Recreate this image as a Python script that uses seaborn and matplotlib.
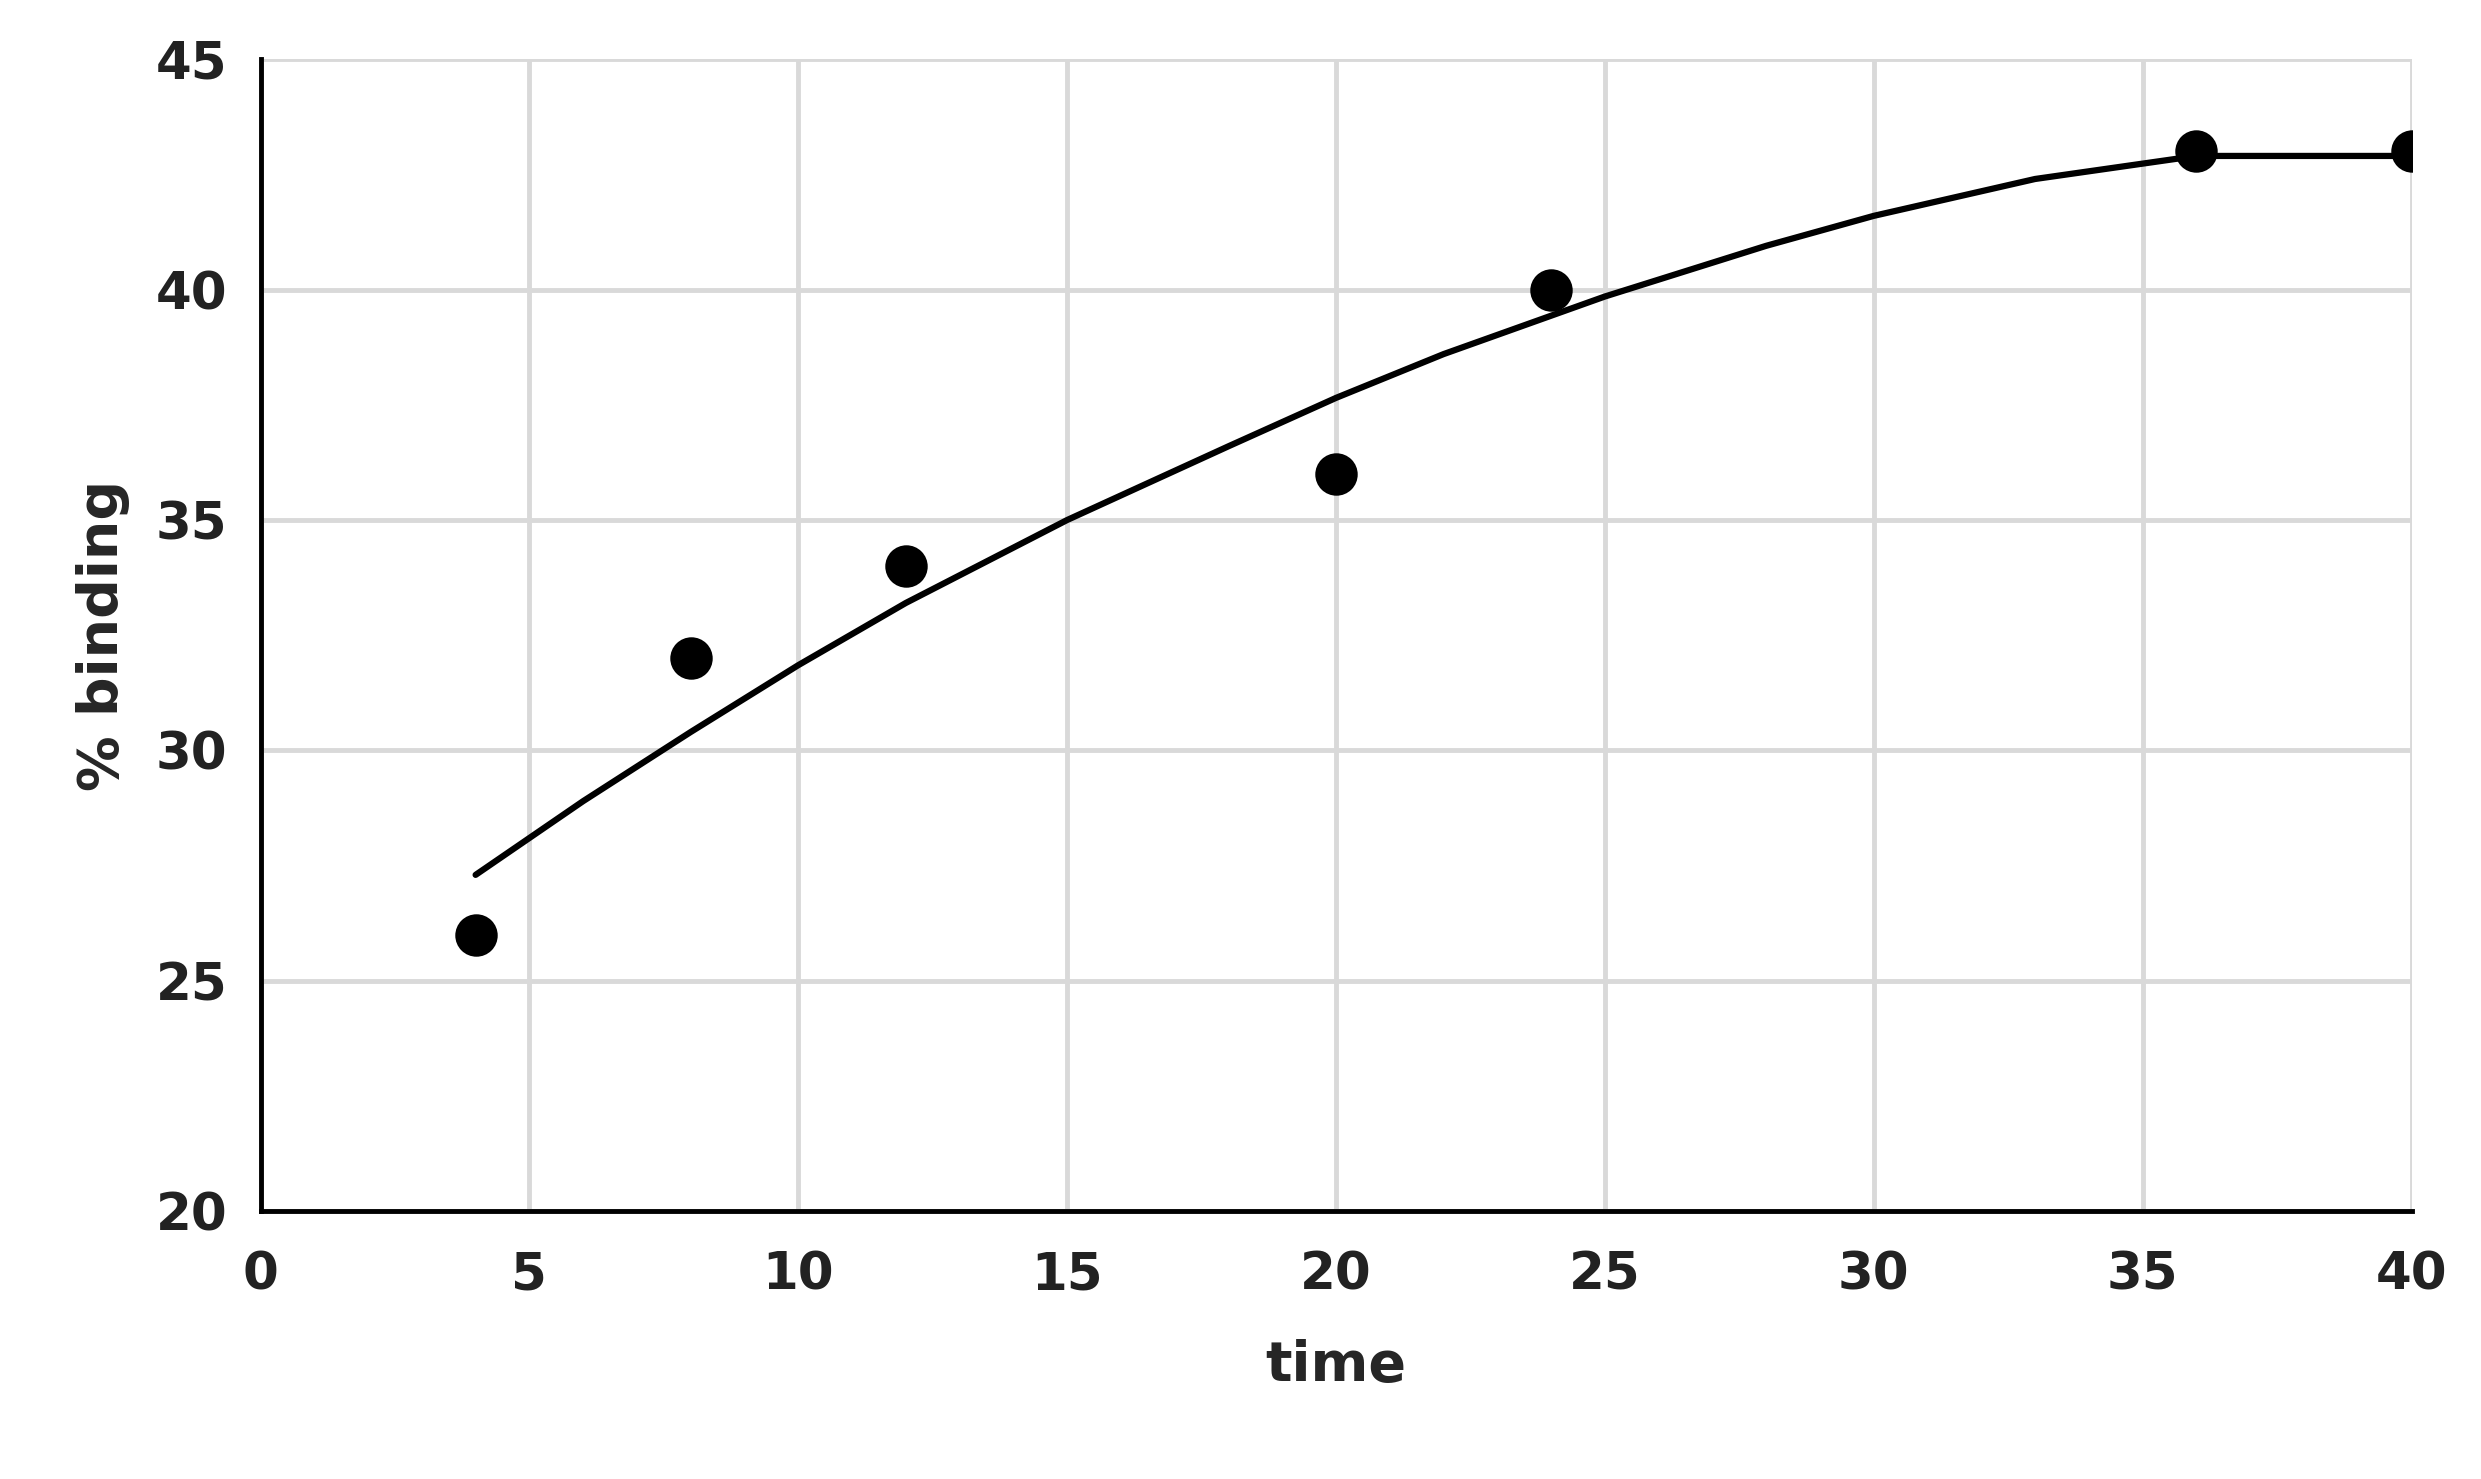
import matplotlib
matplotlib.use("Agg")
import matplotlib.pyplot as plt
import seaborn as sns
import pandas as pd

# Measured points
time_pts = [4, 8, 12, 20, 24, 36, 40]
binding_pts = [26, 32, 34, 36, 40, 43, 43]

# Trend line
curve_time = [4, 6, 8, 10, 12, 15, 18, 20, 22, 25, 28, 30, 33, 36, 40]
curve_binding = [27.3, 28.9, 30.4, 31.85, 33.2, 35.0, 36.6, 37.65, 38.6, 39.85,
                 40.95, 41.6, 42.4, 42.9, 42.9]

x_ticks = [0, 5, 10, 15, 20, 25, 30, 35, 40]
y_ticks = [20, 25, 30, 35, 40, 45]

sns.set_style("white")
plt.rcParams["font.family"] = ["DejaVu Sans"]

points_df = pd.DataFrame({"time": time_pts, "binding": binding_pts})
curve_df = pd.DataFrame({"time": curve_time, "binding": curve_binding})

fig, ax = plt.subplots(figsize=(24.81, 14.79), dpi=100)
fig.subplots_adjust(left=0.105, right=0.972, top=0.96, bottom=0.181)

ax.grid(True, color="#d9d9d9", linewidth=3.5)
ax.set_axisbelow(True)

sns.lineplot(data=curve_df, x="time", y="binding", ax=ax, color="black",
             linewidth=4.5, zorder=2)
sns.scatterplot(data=points_df, x="time", y="binding", ax=ax, color="black",
                s=800, edgecolor="black", zorder=3)

ax.set_xlim(0, 40)
ax.set_ylim(20, 45)
ax.set_xticks(x_ticks)
ax.set_yticks(y_ticks)
ax.tick_params(axis="both", labelsize=37, colors="#222222")
ax.tick_params(axis="y", length=14, width=3, color="black", direction="out", pad=10)
ax.tick_params(axis="x", length=0, pad=28)
for lbl in ax.get_xticklabels() + ax.get_yticklabels():
    lbl.set_fontweight("bold")

for side in ["top", "right"]:
    ax.spines[side].set_visible(False)
for side in ["left", "bottom"]:
    ax.spines[side].set_color("black")
    ax.spines[side].set_linewidth(3.5)

ax.set_xlabel("time", fontsize=40, fontweight="bold", labelpad=28)
ax.set_ylabel("% binding", fontsize=40, fontweight="bold", labelpad=18)

plt.savefig("out.png")
